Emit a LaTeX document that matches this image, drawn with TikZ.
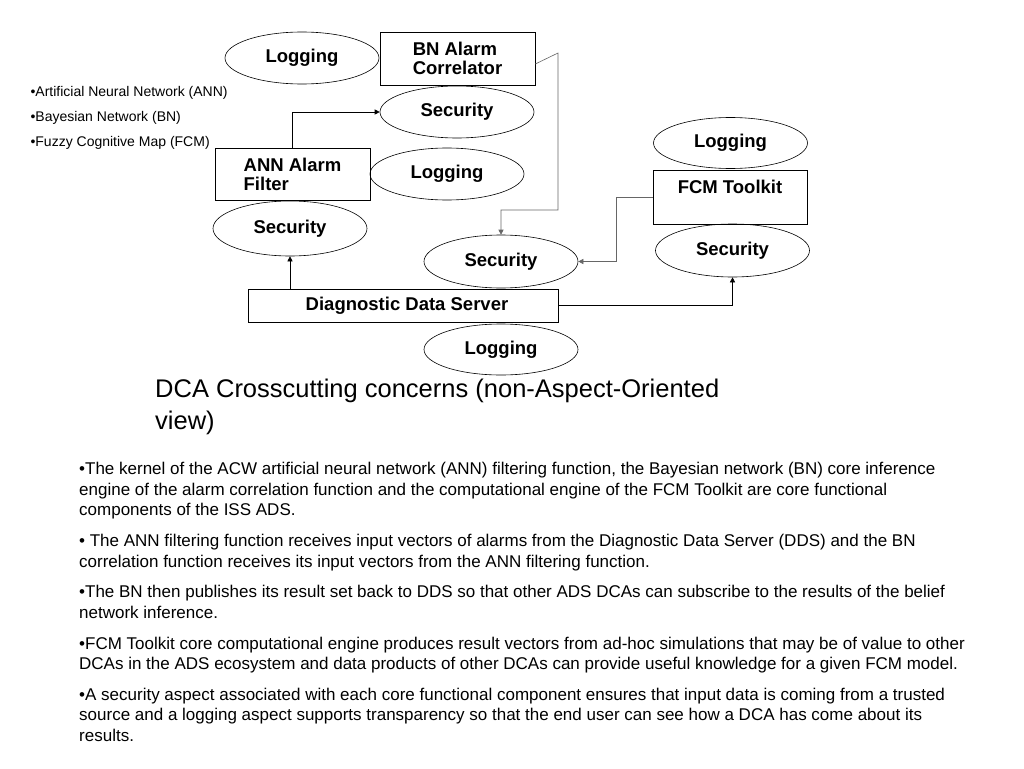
\documentclass[tikz,border=0pt]{standalone}
\usepackage{fontspec}
\setmainfont{Liberation Sans}
\usetikzlibrary{shapes.geometric,arrows.meta,positioning,calc}
\begin{document}
\begin{tikzpicture}[x=1pt,y=-1pt,
  lbl/.style={font=\fontsize{18.5}{19}\selectfont\bfseries},
  oval/.style={draw=black,line width=0.6pt,ellipse,minimum width=154pt,minimum height=52pt,inner sep=0pt,lbl},
  boxn/.style={draw=black,line width=0.6pt,rectangle,minimum width=155pt,minimum height=53pt,inner sep=0pt,align=left,lbl},
  conn/.style={line width=0.6pt,-{Triangle[length=5pt,width=5pt]}},
  gconn/.style={conn,draw=black!60},
  listtxt/.style={anchor=west,font=\fontsize{14}{16}\selectfont}
]
\useasboundingbox (0,0) rectangle (1024,768);
\fill[white] (0,0) rectangle (1024,768);

% list top-left
\node[listtxt] (l1) at (27,93) {•Artificial Neural Network (ANN)};
\node[listtxt] (l2) at (27,118) {•Bayesian Network (BN)};
\node[listtxt] (l3) at (27,143) {•Fuzzy Cognitive Map (FCM)};

% diagram
\node[oval] (log1) at (302,58) {Logging};
\node[boxn] (bn) at (457.5,58.5) {BN Alarm\\Correlator};
\node[oval] (bnsec) at (457,112) {Security};
\node[boxn,minimum height=52pt] (ann) at (292.5,174) {ANN Alarm\\Filter};
\node[oval] (annlog) at (447,174) {Logging};
\node[oval,minimum height=55pt] (annsec) at (290,228.5) {Security};
\node[oval,minimum height=53pt] (ddssec) at (501,261.5) {Security};
\node[oval,minimum height=51pt] (fcmlog) at (730.5,143) {Logging};
\node[boxn,minimum width=154pt,minimum height=54pt] (fcm) at (730,197) {FCM Toolkit\\[-5pt]\strut};
\node[oval,minimum height=53pt] (fcmsec) at (732.5,250.5) {Security};
\node[boxn,minimum width=310pt,minimum height=33pt] (dds) at (403,305.5) {\hspace*{8pt}Diagnostic Data Server};
\node[oval,minimum height=51pt] (ddslog) at (501,349.5) {Logging};

% connectors
\draw[conn] (ann.north) |- (bnsec.west);
\coordinate (c1) at (558,53);
\coordinate (c2) at (558,210);
\draw[gconn] ([yshift=-5.5pt]bn.east) -- (c1) -- (c2) -| (ddssec.north);
\coordinate (c3) at (616,197);
\draw[gconn] (fcm.west) -- (c3) |- (ddssec.east);
\draw[conn] (annsec.south |- dds.north) -- (annsec.south);
\draw[conn] (dds.east) -| (fcmsec.south);

% title
\node[anchor=north west,align=left,font=\fontsize{25.5}{31.5}\selectfont,inner sep=0pt] (title) at (155,379) {DCA Crosscutting concerns (non-Aspect-Oriented\\view)};

% body
\node[anchor=north west,align=left,font=\fontsize{17}{20.5}\selectfont,inner sep=0pt] (body) at (79,462) {%
•The kernel of the ACW artificial neural network (ANN) filtering function, the Bayesian network (BN) core inference\\
engine of the alarm correlation function and the computational engine of the FCM Toolkit are core functional\\
components of the ISS ADS.\\[10.5pt]
• The ANN filtering function receives input vectors of alarms from the Diagnostic Data Server (DDS) and the BN\\
correlation function receives its input vectors from the ANN filtering function.\\[10pt]
•The BN then publishes its result set back to DDS so that other ADS DCAs can subscribe to the results of the belief\\
network inference.\\[10.5pt]
•FCM Toolkit core computational engine produces result vectors from ad-hoc simulations that may be of value to other\\
DCAs in the ADS ecosystem and data products of other DCAs can provide useful knowledge for a given FCM model.\\[10pt]
•A security aspect associated with each core functional component ensures that input data is coming from a trusted\\
source and a logging aspect supports transparency so that the end user can see how a DCA has come about its\\
results.};
\end{tikzpicture}
\end{document}
